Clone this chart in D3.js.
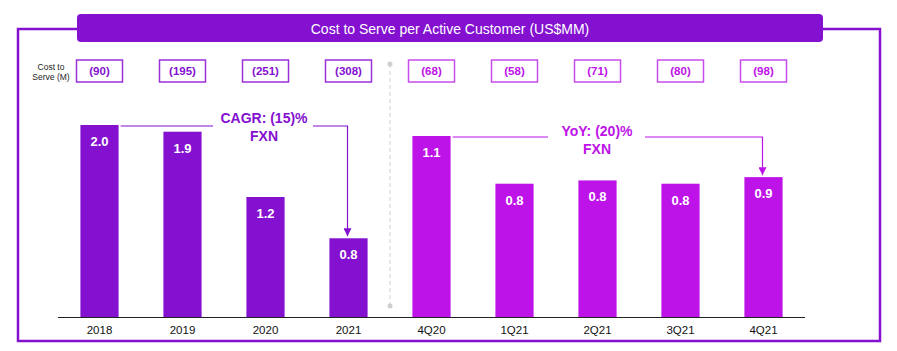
<!DOCTYPE html>
<html>
<head>
<meta charset="utf-8">
<script src="https://cdn.jsdelivr.net/npm/d3@7"></script>
<style>
    body { margin: 0; background: #fff; }
    svg { font-family: 'Liberation Sans', Arial, Helvetica, sans-serif; }
</style>
</head>
<body>
<div id="chart"></div>
<script>
// data
const annualCats = ['2018', '2019', '2020', '2021'];
const annualValues = [2.0, 1.93, 1.25, 0.82];
const annualLabels = ['2.0', '1.9', '1.2', '0.8'];
const annualCost = ['(90)', '(195)', '(251)', '(308)'];

const quarterCats = ['4Q20', '1Q21', '2Q21', '3Q21', '4Q21'];
const quarterValues = [1.1, 0.81, 0.83, 0.81, 0.85];
const quarterLabels = ['1.1', '0.8', '0.8', '0.8', '0.9'];
const quarterCost = ['(68)', '(58)', '(71)', '(80)', '(98)'];

const titleText = 'Cost to Serve per Active Customer (US$MM)';
const cagrText = ['CAGR: (15)%', 'FXN'];
const yoyText = ['YoY: (20)%', 'FXN'];

const purple = '#8410d0';
const magenta = '#bd12e8';

const width = 897, height = 351;
const baseY = 317;

let svg = d3.select('#chart').append('svg')
    .attr('width', width)
    .attr('height', height);

// outer frame
svg.append('path')
    .attr('d', 'M80,29 H18 V341 H880 V29 H820')
    .attr('fill', 'none')
    .attr('stroke', purple)
    .attr('stroke-width', 2.5);

// header
svg.append('rect')
    .attr('x', 77).attr('y', 14)
    .attr('width', 746).attr('height', 28)
    .attr('rx', 4)
    .attr('fill', purple);

svg.append('text')
    .attr('x', 450).attr('y', 33.5)
    .attr('text-anchor', 'middle')
    .attr('fill', '#fff')
    .attr('font-size', 14)
    .text(titleText);

// scales
let allCats = annualCats.concat(quarterCats);
let x = d3.scaleBand().domain(allCats).range([58, 805]).paddingInner(0.54).paddingOuter(0.27);

let yA = d3.scaleLinear().domain([0, 2.0]).range([baseY, 125]);
let yQ = d3.scaleLinear().domain([0, 1.1]).range([baseY, 136]);

let data = annualCats.map((c, i) => ({ cat: c, value: annualValues[i], label: annualLabels[i], cost: annualCost[i], y: yA, color: purple }))
    .concat(quarterCats.map((c, i) => ({ cat: c, value: quarterValues[i], label: quarterLabels[i], cost: quarterCost[i], y: yQ, color: magenta })));

// cost row
svg.append('text')
    .attr('x', 51).attr('y', 70)
    .attr('text-anchor', 'middle')
    .attr('font-size', 8.5)
    .attr('fill', '#222')
    .selectAll('tspan')
    .data(['Cost to', 'Serve (M)'])
    .join('tspan')
    .attr('x', 51)
    .attr('dy', (d, i) => i === 0 ? 0 : 10)
    .text((d) => d);

let boxW = 46;
let boxes = svg.append('g').selectAll('g').data(data).join('g')
    .attr('transform', (d) => `translate(${x(d.cat) + x.bandwidth() / 2},71)`);

boxes.append('rect')
    .attr('x', -boxW / 2).attr('y', -11)
    .attr('width', boxW).attr('height', 22)
    .attr('fill', '#fff')
    .attr('stroke', (d) => d.color === purple ? '#9a30d8' : '#c84cec')
    .attr('stroke-width', 1.5);

boxes.append('text')
    .attr('text-anchor', 'middle')
    .attr('dy', '0.36em')
    .attr('font-size', 11.5)
    .attr('font-weight', 'bold')
    .attr('fill', (d) => d.color)
    .text((d) => d.cost);

// divider
let divX = (x('2021') + x.bandwidth() + x('4Q20')) / 2;
svg.append('line')
    .attr('x1', divX).attr('x2', divX)
    .attr('y1', 64).attr('y2', 306)
    .attr('stroke', '#d0d0d0')
    .attr('stroke-width', 1)
    .attr('stroke-dasharray', '4,3');
svg.selectAll('.divdot').data([64, 306]).join('circle')
    .attr('class', 'divdot')
    .attr('cx', divX).attr('cy', (d) => d)
    .attr('r', 2.5)
    .attr('fill', '#cfcfcf');

// bars
svg.append('g').selectAll('rect').data(data).join('rect')
    .attr('x', (d) => x(d.cat))
    .attr('y', (d) => d.y(d.value))
    .attr('width', x.bandwidth())
    .attr('height', (d) => baseY - d.y(d.value))
    .attr('fill', (d) => d.color);

svg.append('g').selectAll('text').data(data).join('text')
    .attr('x', (d) => x(d.cat) + x.bandwidth() / 2)
    .attr('y', (d) => d.y(d.value) + 21)
    .attr('text-anchor', 'middle')
    .attr('font-size', 13)
    .attr('font-weight', 'bold')
    .attr('fill', '#fff')
    .text((d) => d.label);

// baseline and axis labels
let xAxis = d3.axisBottom(x).tickSize(0).tickPadding(9);
let gx = svg.append('g')
    .attr('transform', `translate(0,${baseY})`)
    .call(xAxis);
gx.select('.domain').attr('stroke', '#222').attr('stroke-width', 1.2).attr('d', `M58,0.5H805`);
gx.selectAll('text')
    .attr('font-size', 11.5)
    .attr('fill', '#111')
    .attr('font-family', "'Liberation Sans', Arial, sans-serif");

// annotations
svg.append('defs').selectAll('marker')
    .data([['arrP', purple], ['arrM', magenta]])
    .join('marker')
    .attr('id', (d) => d[0])
    .attr('viewBox', '0 0 10 10')
    .attr('refX', 10).attr('refY', 5)
    .attr('markerWidth', 8).attr('markerHeight', 8)
    .attr('markerUnits', 'userSpaceOnUse')
    .attr('orient', 'auto')
    .append('path')
    .attr('d', 'M0,0 L10,5 L0,10 Z')
    .attr('fill', (d) => d[1]);

function annotate(fromCat, toCat, yScale, fromVal, toVal, lineY, textX, textY, gapL, gapR, lines, color, marker) {
    let x0 = x(fromCat) + x.bandwidth();
    let x1 = x(toCat) + x.bandwidth() / 2 - 1;
    svg.append('line')
        .attr('x1', x0 + 2).attr('x2', gapL)
        .attr('y1', lineY).attr('y2', lineY)
        .attr('stroke', color).attr('stroke-width', 1.2);
    svg.append('path')
        .attr('d', `M${gapR},${lineY} H${x1} V${yScale(toVal) - 2}`)
        .attr('fill', 'none')
        .attr('stroke', color).attr('stroke-width', 1.2)
        .attr('marker-end', `url(#${marker})`);
    svg.append('text')
        .attr('text-anchor', 'middle')
        .attr('font-size', 14)
        .attr('font-weight', 'bold')
        .attr('fill', color)
        .selectAll('tspan')
        .data(lines)
        .join('tspan')
        .attr('x', textX)
        .attr('y', (d, i) => textY + i * 18)
        .text((d) => d);
}

annotate('2018', '2021', yA, annualValues[0], annualValues[3], 126, 264, 123, 213, 313, cagrText, purple, 'arrP');
annotate('4Q20', '4Q21', yQ, quarterValues[0], quarterValues[4], 137, 597, 136, 548, 645, yoyText, magenta, 'arrM');
</script>
</body>
</html>
